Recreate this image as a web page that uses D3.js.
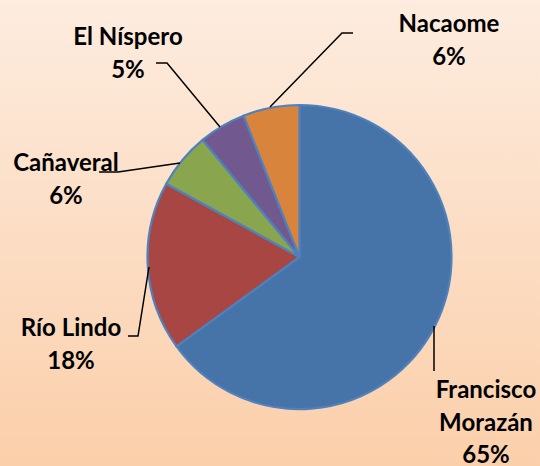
<!DOCTYPE html>
<html><head><meta charset="utf-8">
<script src="https://cdn.jsdelivr.net/npm/d3@7"></script>
<style>html,body{margin:0;padding:0;overflow:hidden;}</style>
</head><body>
<script>
const categories = ["Francisco Morazán", "Río Lindo", "Cañaveral", "El Níspero", "Nacaome"];
const values = [65, 18, 6, 5, 6];
const pctLabels = ["65%", "18%", "6%", "5%", "6%"];
const colors = ["#4673a8", "#a84644", "#89a54e", "#71598f", "#d9843d"];

const W = 540, H = 466;
const cx = 299.5, cy = 257, R = 152;

const svg = d3.select("body").append("svg").attr("width", W).attr("height", H);
const defs = svg.append("defs");
const grad = defs.append("linearGradient").attr("id", "bg").attr("x1", 0).attr("y1", 0).attr("x2", 0).attr("y2", 1);
grad.append("stop").attr("offset", "0%").attr("stop-color", "#fdecdf");
grad.append("stop").attr("offset", "100%").attr("stop-color", "#fbcfaa");
svg.append("rect").attr("width", W).attr("height", H).attr("fill", "url(#bg)");

const pie = d3.pie().sort(null).value(d => d)(values);
const arc = d3.arc().innerRadius(0).outerRadius(R);
const g = svg.append("g").attr("transform", `translate(${cx},${cy})`);
g.selectAll("path").data(pie).join("path")
  .attr("d", arc)
  .attr("fill", (d, i) => colors[i])
  .attr("stroke", "#4f81bd")
  .attr("stroke-width", 2.2)
  .attr("stroke-linejoin", "round");

// leader lines & labels: positions as layout hints (label anchor + elbow)
const layout = [
  { lines: [[434, 326], [434, 371]], text: [486, 390] },
  { lines: [[149, 267], [138, 336], [128, 336]], text: [71, 328] },
  { lines: [[180, 163], [118, 172], [99, 172]], text: [66, 163] },
  { lines: [[220, 127], [167, 63], [156, 63]], text: [128, 37] },
  { lines: [[270, 107], [342, 33], [353, 33]], text: [449, 24] }
];

const line = d3.line();
layout.forEach((L, i) => {
  svg.append("path").attr("d", line(L.lines)).attr("fill", "none")
    .attr("stroke", "#000").attr("stroke-width", 1.5);
});

const nameLines = [["Francisco", "Morazán"], ["Río Lindo"], ["Cañaveral"], ["El Níspero"], ["Nacaome"]];
layout.forEach((L, i) => {
  const rows = nameLines[i].concat([pctLabels[i]]);
  const t = svg.append("text")
    .attr("text-anchor", "middle")
    .attr("font-family", "Lato, 'Open Sans', sans-serif")
    .attr("font-weight", "bold")
    .attr("font-size", 24)
    .attr("fill", "#000");
  rows.forEach((r, k) => {
    t.append("tspan").attr("x", L.text[0]).attr("y", L.text[1] + k * 32.5)
      .attr("dy", "0.35em").text(r);
  });
});
</script>
</body></html>
